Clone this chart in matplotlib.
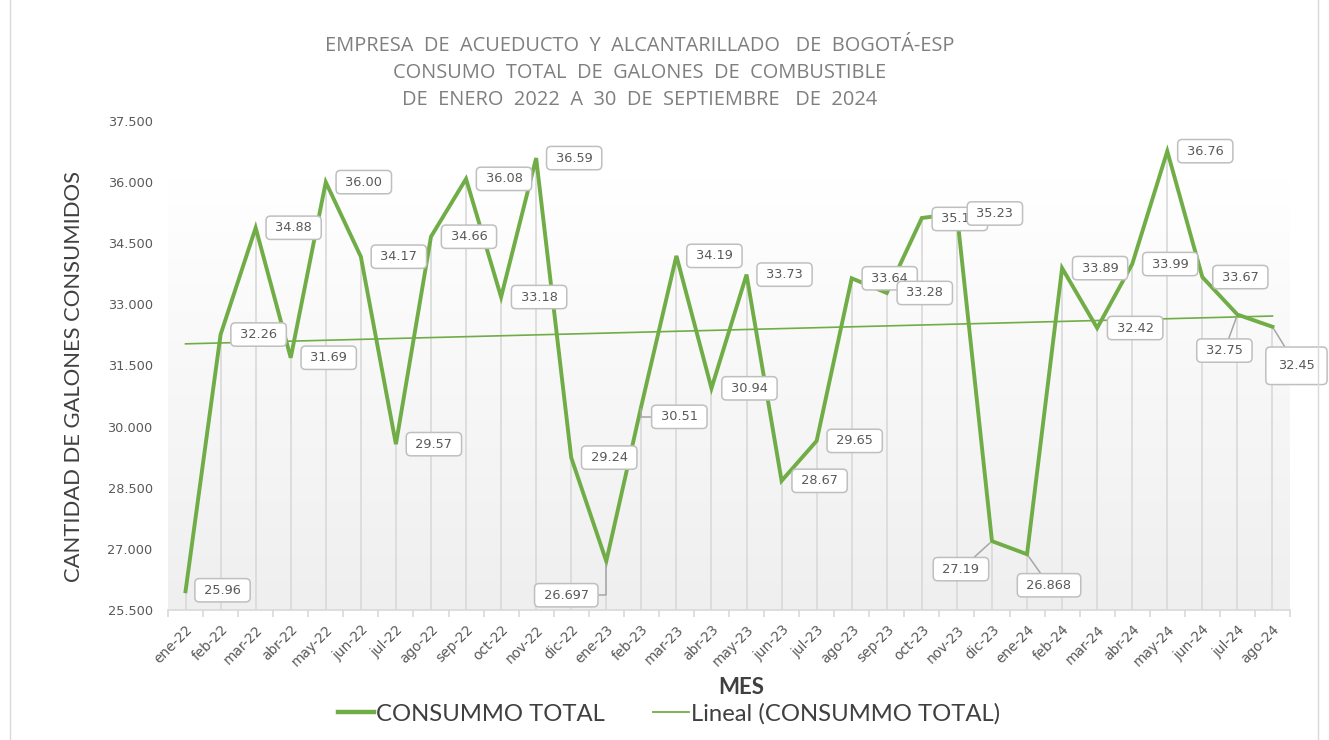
import numpy as np
import matplotlib
matplotlib.use("Agg")
import matplotlib.pyplot as plt
from matplotlib.lines import Line2D
from matplotlib.colors import LinearSegmentedColormap

# ---------------- data ----------------
meses = ["ene-22", "feb-22", "mar-22", "abr-22", "may-22", "jun-22", "jul-22", "ago-22",
         "sep-22", "oct-22", "nov-22", "dic-22", "ene-23", "feb-23", "mar-23", "abr-23",
         "may-23", "jun-23", "jul-23", "ago-23", "sep-23", "oct-23", "nov-23", "dic-23",
         "ene-24", "feb-24", "mar-24", "abr-24", "may-24", "jun-24", "jul-24", "ago-24"]
consumo = [25.96, 32.26, 34.88, 31.69, 36.00, 34.17, 29.57, 34.66,
           36.08, 33.18, 36.59, 29.24, 26.697, 30.51, 34.19, 30.94,
           33.73, 28.67, 29.65, 33.64, 33.28, 35.12, 35.23, 27.19,
           26.868, 33.89, 32.42, 33.99, 36.76, 33.67, 32.75, 32.45]
etiquetas = ["25.96", "32.26", "34.88", "31.69", "36.00", "34.17", "29.57", "34.66",
             "36.08", "33.18", "36.59", "29.24", "26.697", "30.51", "34.19", "30.94",
             "33.73", "28.67", "29.65", "33.64", "33.28", "35.12", "35.23", "27.19",
             "26.868", "33.89", "32.42", "33.99", "36.76", "33.67", "32.75", "32.45"]
y_ticks = [25.5, 27.0, 28.5, 30.0, 31.5, 33.0, 34.5, 36.0, 37.5]
y_tick_labels = ["25.500", "27.000", "28.500", "30.000", "31.500",
                 "33.000", "34.500", "36.000", "37.500"]
titulo = ["EMPRESA  DE  ACUEDUCTO  Y  ALCANTARILLADO   DE  BOGOTÁ-ESP",
          "CONSUMO  TOTAL  DE  GALONES  DE  COMBUSTIBLE",
          "DE  ENERO  2022  A  30  DE  SEPTIEMBRE   DE  2024"]
serie = "CONSUMMO TOTAL"
tendencia = "Lineal (CONSUMMO TOTAL)"

# ---------------- label placement (pixel offsets) ----------------
default_off = (38, 0)
special_off = {0: (37, 1), 12: (-40, -34), 13: (38, -11), 21: (38, -1),
               23: (-31, -28), 24: (22, -31), 30: (-13, -36), 31: (24, -39)}
elbow = {12, 13}
leader = {23, 24, 30, 31}

GREEN = "#70ad47"
W, H = 1329, 740
fig = plt.figure(figsize=(W / 100, H / 100), dpi=100)
ax = fig.add_axes([168 / W, 1 - 610 / H, (1290 - 168) / W, (610 - 121) / H])

x = np.arange(len(consumo))

# gradient background
cmap = LinearSegmentedColormap.from_list("bg", ["#ffffff", "#efefef"])
ax.imshow(np.linspace(0, 1, 256).reshape(-1, 1), extent=(-0.5, 31.5, 25.5, 36.1),
          cmap=cmap, aspect="auto", origin="upper", zorder=0)

# drop lines
ax.vlines(x, 25.5, consumo, color="#d9d9d9", lw=1.2, zorder=1)

# trend line
coef = np.polyfit(x, consumo, 1)
ax.plot(x, np.polyval(coef, x), color=GREEN, lw=1.2, zorder=2)

# main line
ax.plot(x, consumo, color=GREEN, lw=2.8, zorder=3, solid_joinstyle="miter")

# data labels
for i, (v, t) in enumerate(zip(consumo, etiquetas)):
    off = special_off.get(i, default_off)
    pad = 0.95 if i == 31 else 0.4
    txt = t if i == 31 else " " + t + " "
    kw = dict(xy=(i, v), xytext=off, textcoords="offset pixels", ha="center", va="center",
              fontsize=9.3, color="#595959", zorder=5,
              bbox=dict(boxstyle=f"round,pad={pad},rounding_size=0.35", fc="white",
                        ec="#bfbfbf", lw=1.1))
    if i in elbow:
        kw["arrowprops"] = dict(arrowstyle="-", color="#a6a6a6", lw=1.1, shrinkA=0, shrinkB=2,
                                connectionstyle="angle,angleA=0,angleB=90,rad=0")
    elif i in leader:
        kw["arrowprops"] = dict(arrowstyle="-", color="#a6a6a6", lw=1.1, shrinkA=0, shrinkB=2)
    ax.annotate(txt, **kw)

# axes styling
ax.set_xlim(-0.5, 31.5)
ax.set_ylim(25.5, 37.5)
for s in ["left", "right", "top"]:
    ax.spines[s].set_visible(False)
ax.spines["bottom"].set_color("#d9d9d9")
ax.spines["bottom"].set_linewidth(1.2)
ax.set_yticks(y_ticks)
ax.set_yticklabels(y_tick_labels)
ax.tick_params(axis="y", length=0, pad=11, labelsize=9.3, labelcolor="#595959")
ax.set_xticks(x)
ax.set_xticklabels(meses, rotation=45, ha="right", rotation_mode="anchor")
ax.tick_params(axis="x", which="major", length=0, pad=9, labelsize=9.8, labelcolor="#595959")
ax.set_xticks(np.arange(-0.5, 32, 1), minor=True)
ax.tick_params(axis="x", which="minor", length=5, color="#d9d9d9", width=1.2)
ax.set_facecolor("white")

# titles and axis labels
for k, line in enumerate(titulo):
    fig.text(640 / W, 1 - (46 + 27 * k) / H, line, ha="center", va="center",
             fontsize=14.4, color="#7f7f7f", family="Open Sans")
fig.text(74 / W, 1 - 376 / H, "CANTIDAD DE GALONES CONSUMIDOS", rotation=90,
         ha="center", va="center", fontsize=15.8, color="#404040", family="Lato")
fig.text(741 / W, 1 - 688 / H, "MES", ha="center", va="center", fontsize=16,
         fontweight="bold", color="#404040", family="Lato")

handles = [Line2D([], [], color=GREEN, lw=3.2), Line2D([], [], color=GREEN, lw=1.3)]
fig.legend(handles, [serie, tendencia], loc="center", bbox_to_anchor=(669 / W, 1 - 714 / H),
           ncol=2, frameon=False, handlelength=1.5, handletextpad=0.1, columnspacing=2.0,
           prop=dict(family="Lato", size=17.2), labelcolor="#404040")

# outer frame
fig.add_artist(Line2D([10 / W, 10 / W], [0, 1], color="#d9d9d9", lw=1))
fig.add_artist(Line2D([1318 / W, 1318 / W], [0, 1], color="#d9d9d9", lw=1))

fig.savefig("out.png", dpi=100)
